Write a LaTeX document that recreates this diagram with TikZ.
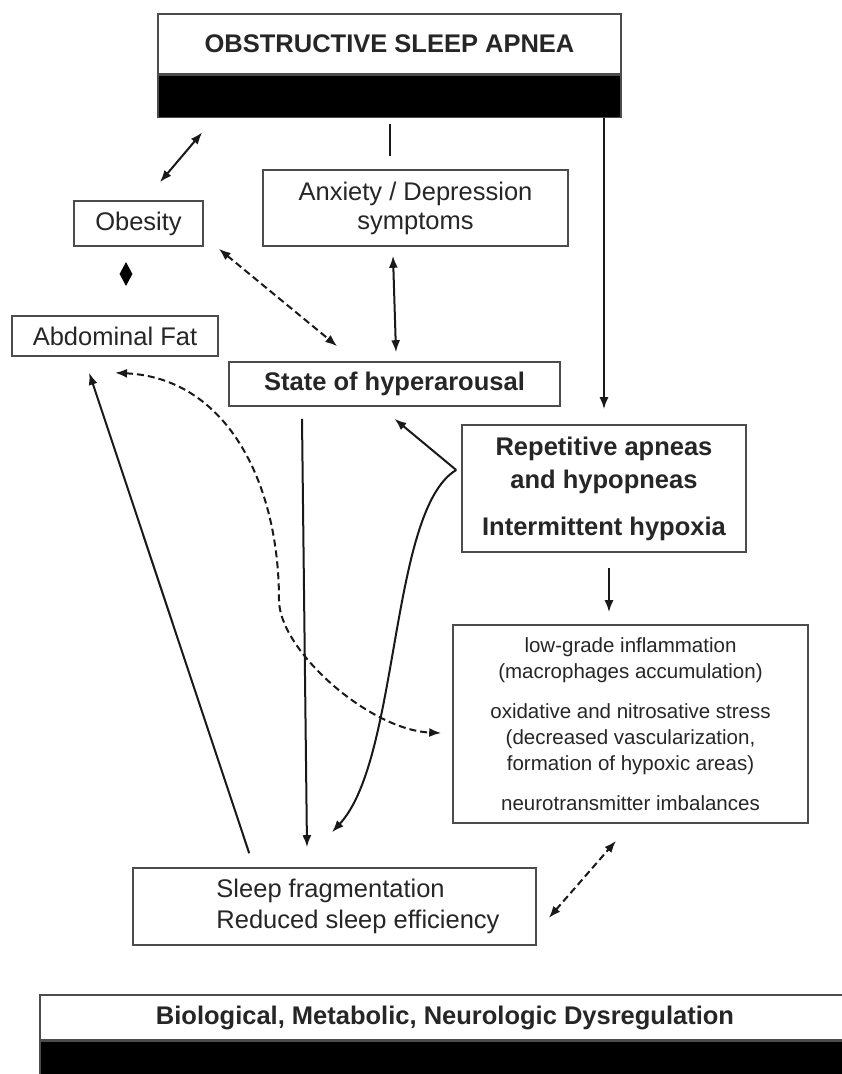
\documentclass[tikz,border=0pt]{standalone}
\usepackage{fontspec}
\setmainfont{Liberation Sans}
\usetikzlibrary{arrows.meta,positioning,shapes.geometric}

\tikzset{
  box/.style={draw=black!70, line width=1.6pt, fill=white, align=center, inner sep=0pt, text=black!85, font=\fontsize{25.5}{30}\selectfont},
  hd/.style={font=\bfseries\fontsize{25.5}{30}\selectfont},
  band/.style={draw=black!70, fill=black, line width=1.6pt, inner sep=0pt},
  con/.style={line width=2pt, black!90},
  dash line/.style={con, dash pattern=on 7pt off 4pt},
  >={Latex[length=12pt,width=9pt]},
}

\begin{document}
\begin{tikzpicture}[x=1pt,y=-1pt]
\clip (0,0) rectangle (842,1074);
\fill[white] (0,0) rectangle (842,1074);

% boxes
\node[box, hd, minimum width=463pt, minimum height=60pt] (osa) at (389.5,44) {OBSTRUCTIVE SLEEP APNEA};
\node[band, minimum width=463pt, minimum height=42pt, below=0pt of osa] (osaband) {};
\node[box, minimum width=305pt, minimum height=76pt, font=\fontsize{25.5}{29}\selectfont] (anx) at (415.5,208) {Anxiety / Depression\\symptoms};
\node[box, minimum width=129pt, minimum height=45pt] (obes) at (138.5,223.5) {Obesity};
\node[diamond, fill=black, inner sep=0pt, minimum width=13pt, minimum height=24pt] (link) at (126,274) {};
\node[box, minimum width=206pt, minimum height=40pt] (abd) at (115,336) {Abdominal Fat};
\node[box, hd, minimum width=331pt, minimum height=44pt] (hyp) at (394.5,384) {State of hyperarousal};
\node[box, minimum width=284pt, minimum height=127pt, font=\bfseries\fontsize{25.5}{33}\selectfont] (rep) at (604,488.5) {Repetitive apneas\\and hypopneas\\[14pt]Intermittent hypoxia};
\node[box, minimum width=355pt, minimum height=198pt, font=\fontsize{20.5}{26}\selectfont] (infl) at (630.5,724) {low-grade inflammation\\(macrophages accumulation)\\[14pt]oxidative and nitrosative stress\\(decreased vascularization,\\formation of hypoxic areas)\\[14pt]neurotransmitter imbalances};
\node[box, align=left, minimum width=403pt, minimum height=77pt, font=\fontsize{25.5}{31}\selectfont] (sleep) at (334.5,906.5) {\hspace*{47pt}Sleep fragmentation\\\hspace*{47pt}Reduced sleep efficiency};
\node[box, hd, minimum width=810pt, minimum height=45pt] (bio) at (445,1017.5) {Biological, Metabolic, Neurologic Dysregulation};
\node[band, minimum width=810pt, minimum height=40pt, below=0pt of bio] (bioband) {};

% connectors
\coordinate (fork) at ([xshift=-5pt,yshift=18.5pt]rep.west);
\coordinate (bend) at (279,600);
\draw[con, shorten <=6pt, shorten >=13pt] (osaband.south) -- (osaband.south |- anx.north);
\draw[con, <->] ([xshift=21.5pt,yshift=18pt]obes.north) -- ([xshift=45pt,yshift=-14pt]osaband.south west);
\draw[dash line, <->] ([xshift=15pt,yshift=-2pt]obes.south east) -- ([xshift=109pt,yshift=15pt]hyp.north west);
\draw[con, <->] ([xshift=-22.5pt,yshift=-9pt]anx.south) -- ([xshift=1.5pt,yshift=9pt]hyp.north);
\draw[con, ->, shorten >=15pt] (rep.north |- osaband.south) -- (rep.north);
\draw[con, ->, shorten <=15pt, shorten >=12pt] ([xshift=5pt]rep.south) -- ([xshift=5pt]rep.south |- infl.north);
\draw[con, ->] ([xshift=-92.5pt,yshift=-12pt]hyp.south) -- ([xshift=-27.5pt,yshift=20pt]sleep.north);
\draw[con, ->] (fork) -- ([yshift=-12pt]hyp.south);
\draw[con, ->] (fork) .. controls +(-67,40) and +(68,-73) .. ([xshift=-2.5pt,yshift=35pt]sleep.north);
\draw[con, ->] ([xshift=117pt,yshift=14pt]sleep.north west) -- ([xshift=78pt,yshift=-16pt]abd.south west);
\draw[dash line, <->] ([yshift=-16pt]abd.south) .. controls +(110,5) and +(0,-120) .. (bend) .. controls +(0,50) and +(-72,-3) .. ([xshift=-11pt,yshift=-9pt]infl.west);
\draw[dash line, <->] ([xshift=12pt,yshift=-11.5pt]sleep.east) -- ([xshift=-14.5pt,yshift=-17pt]infl.south);
\end{tikzpicture}
\end{document}
